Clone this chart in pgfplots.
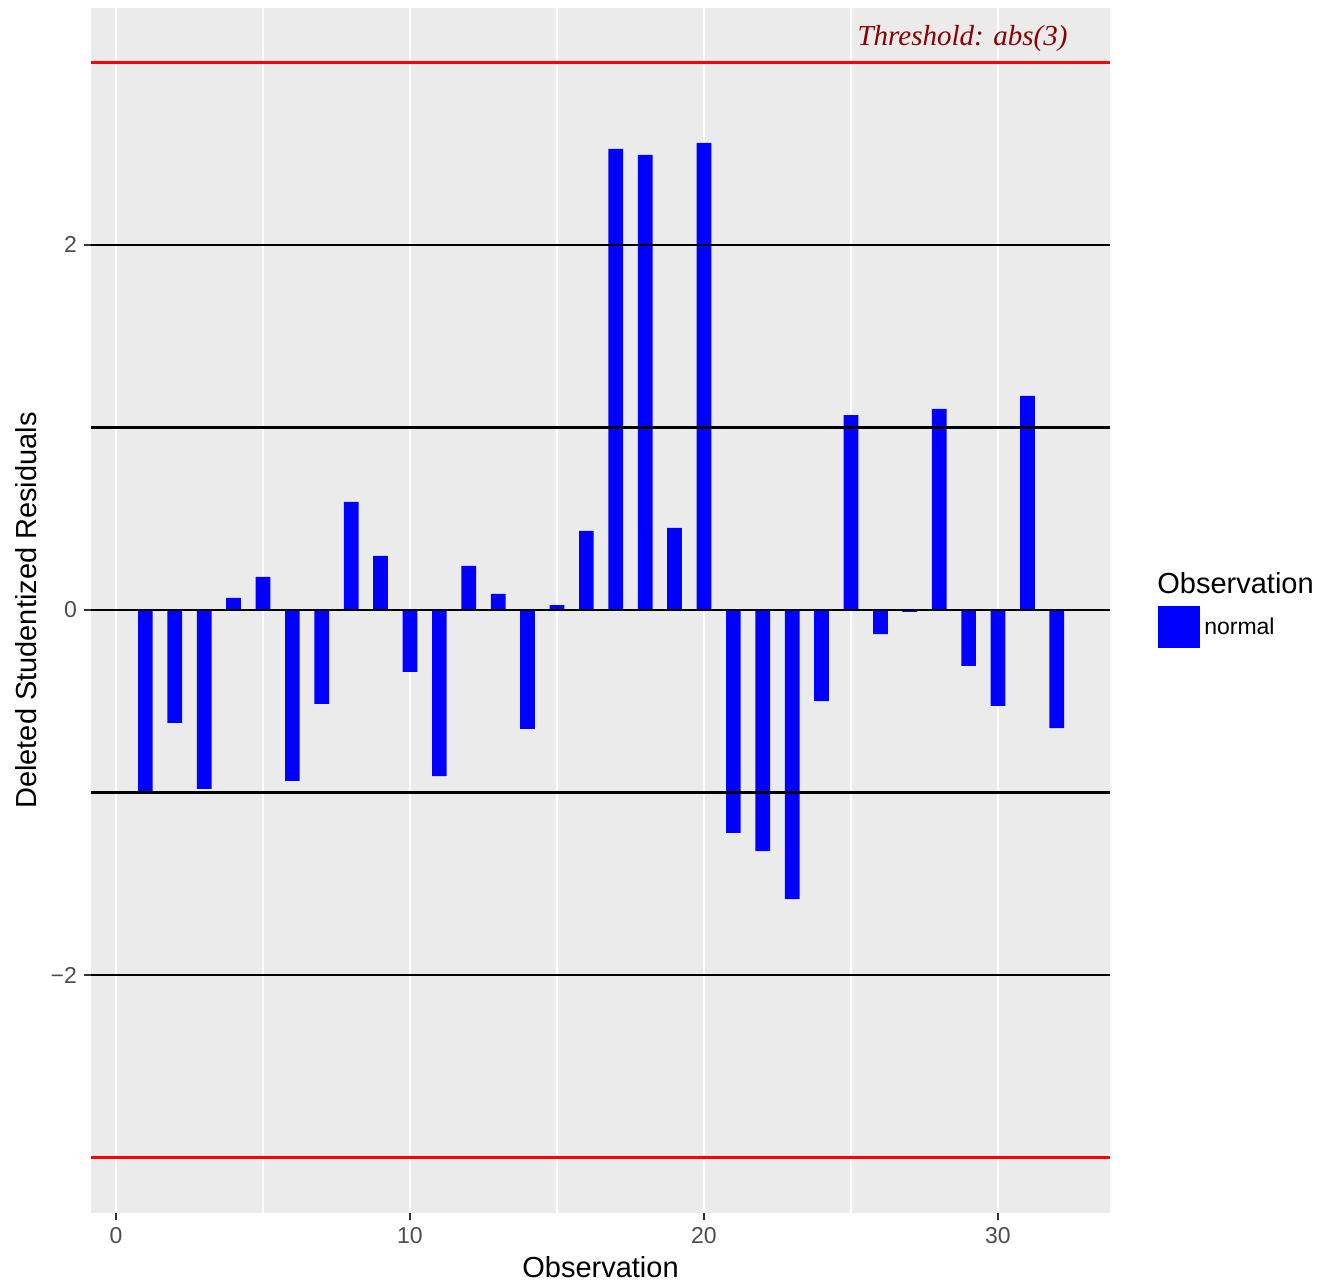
\documentclass[border=0pt]{standalone}
\usepackage{pgfplots}
\pgfplotsset{compat=1.18}
\usepackage{fontspec}
\setmainfont{Liberation Sans}
\newfontfamily\serifit{Liberation Serif}
\definecolor{panel}{HTML}{EBEBEB}
\definecolor{grey30}{HTML}{4D4D4D}
\definecolor{grey20}{HTML}{333333}
\definecolor{dred}{HTML}{8B0000}
\begin{document}
\begin{tikzpicture}[x=1pt,y=1pt]
\useasboundingbox (0,0) rectangle (659,644);
\begin{axis}[at={(45.5pt,37.5pt)}, anchor=south west,
  width=509.5pt, height=602.5pt, scale only axis,
  xmin=-0.85, xmax=33.81, ymin=-3.304, ymax=3.298,
  axis background/.style={fill=panel},
  axis line style={draw=none},
  xtick={0,10,20,30}, minor xtick={5,15,25},
  ytick={-2,0,2}, yticklabels={−2,0,2},
  xmajorgrids, xminorgrids,
  major grid style={white, line width=1.1pt},
  minor grid style={white, line width=0.55pt},
  tick align=outside, tick pos=left,
  major tick length=3.5pt, minor tick length=0pt,
  every tick/.style={grey20, line width=1.1pt},
  ticklabel style={font=\fontsize{11.5}{13}\selectfont, text=grey30},
  /pgf/number format/assume math mode=true,
  clip=false,
  xlabel={Observation},
  xlabel style={font=\fontsize{14.5}{16}\selectfont, at={(axis description cs:0.5,0)}, anchor=base, yshift=-32.5pt, inner sep=0pt},
  ylabel={Deleted Studentized Residuals},
  ylabel style={font=\fontsize{14.5}{16}\selectfont, at={(axis description cs:-0.0638,0.5)}, anchor=center, inner sep=0pt},
  legend style={at={(1.047,0.486)}, anchor=west, draw=none, fill=none, inner sep=0pt,
    font=\fontsize{11.5}{13}\selectfont,
    /tikz/every even column/.append style={column sep=5.5pt}},
  legend image code/.code={\fill[blue] (0pt,-10.5pt) rectangle (21pt,10.5pt);},
]
\addplot[ybar, bar width=0.5, fill=blue, draw=none] coordinates {
(1,-1.003) (2,-0.619) (3,-0.981) (4,0.066) (5,0.181) (6,-0.937) (7,-0.515) (8,0.592)
(9,0.296) (10,-0.340) (11,-0.910) (12,0.241) (13,0.088) (14,-0.652) (15,0.027) (16,0.433)
(17,2.526) (18,2.493) (19,0.449) (20,2.559) (21,-1.222) (22,-1.321) (23,-1.584) (24,-0.499)
(25,1.068) (26,-0.132) (27,-0.010) (28,1.101) (29,-0.307) (30,-0.526) (31,1.173) (32,-0.647)
};
\addlegendentry{normal}
\addplot[black, line width=1.2pt, forget plot] coordinates {(-0.85,2) (33.81,2)};
\addplot[black, line width=1.2pt, forget plot] coordinates {(-0.85,1) (33.81,1)};
\addplot[black, line width=1.2pt, forget plot] coordinates {(-0.85,0) (33.81,0)};
\addplot[black, line width=1.2pt, forget plot] coordinates {(-0.85,-1) (33.81,-1)};
\addplot[black, line width=1.2pt, forget plot] coordinates {(-0.85,-2) (33.81,-2)};
\addplot[red, line width=1.2pt, forget plot] coordinates {(-0.85,3) (33.81,3)};
\addplot[red, line width=1.2pt, forget plot] coordinates {(-0.85,-3) (33.81,-3)};
\node[anchor=base east, inner sep=0pt, text=dred, font=\serifit\itshape\fontsize{14.5}{16}\selectfont] at (axis cs:32.38,3.09) {Threshold: abs(3)};
\node[anchor=base west, inner sep=0pt, font=\fontsize{14.5}{16}\selectfont] at (rel axis cs:1.0461,0.5145) {Observation};
\end{axis}
\end{tikzpicture}
\end{document}
